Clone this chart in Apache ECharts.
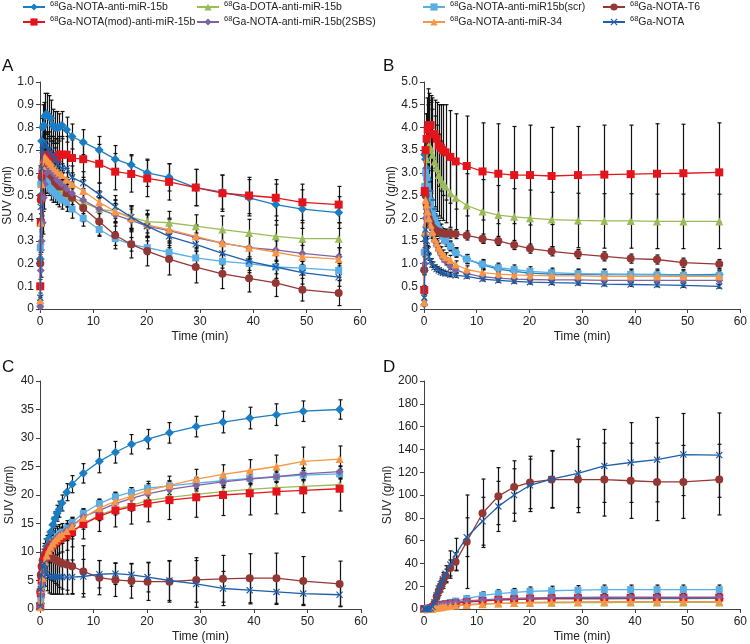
<!DOCTYPE html>
<html><head><meta charset="utf-8">
<script src="https://cdn.jsdelivr.net/npm/echarts@6/dist/echarts.min.js"></script>
<style>html,body{margin:0;padding:0;background:#fff}#c{width:750px;height:644px}</style>
</head><body><div id="c"></div>
<script>
// ---- data ----
const times = [0.05,0.15,0.3,0.5,0.7,0.9,1.25,1.6,2.0,2.4,2.8,3.2,3.6,4.1,5.0,6.0,8.1,11.1,14.1,17.1,20.1,24.2,29.2,34.2,39.2,44.2,49.2,56];
const seriesNames = ['68Ga-NOTA-anti-miR-15b','68Ga-DOTA-anti-miR-15b','68Ga-NOTA-anti-miR15b(scr)','68Ga-NOTA-T6','68Ga-NOTA(mod)-anti-miR-15b','68Ga-NOTA-anti-miR-15b(2SBS)','68Ga-NOTA-anti-miR-34','68Ga-NOTA'];
const panelLabels = ['A','B','C','D'];
const xTicks = [0,10,20,30,40,50,60];
const yMaxA = 1.0, yStepA = 0.1, yMaxB = 5.0, yStepB = 0.5, yMaxC = 40, yStepC = 5, yMaxD = 200, yStepD = 20;

// Panel A
const A_nota15b = [0.22,0.50,0.74,0.80,0.81,0.85,0.86,0.85,0.84,0.81,0.80,0.80,0.80,0.81,0.79,0.76,0.735,0.70,0.66,0.635,0.60,0.58,0.535,0.515,0.49,0.46,0.44,0.425];
const A_nota15b_err = [0.03,0.08,0.1,0.1,0.1,0.1,0.09,0.09,0.08,0.07,0.07,0.07,0.06,0.06,0.055,0.055,0.055,0.06,0.06,0.045,0.06,0.06,0.08,0.075,0.08,0.09,0.085,0.07];
const A_dota = [0.03,0.30,0.50,0.58,0.62,0.63,0.62,0.60,0.58,0.56,0.55,0.54,0.53,0.52,0.50,0.49,0.47,0.44,0.43,0.405,0.385,0.38,0.365,0.35,0.335,0.32,0.31,0.31];
const A_dota_err = [0.01,0.05,0.07,0.08,0.08,0.08,0.07,0.07,0.06,0.06,0.06,0.06,0.05,0.05,0.05,0.05,0.05,0.05,0.05,0.05,0.05,0.05,0.05,0.06,0.06,0.07,0.07,0.07];
const A_scr = [0.27,0.55,0.58,0.59,0.58,0.57,0.56,0.55,0.53,0.52,0.51,0.50,0.49,0.48,0.47,0.44,0.40,0.35,0.31,0.285,0.27,0.25,0.225,0.21,0.20,0.185,0.18,0.17];
const A_scr_err = [0.03,0.05,0.06,0.06,0.06,0.06,0.05,0.05,0.05,0.05,0.04,0.04,0.04,0.04,0.04,0.04,0.035,0.03,0.03,0.03,0.03,0.03,0.03,0.03,0.03,0.03,0.03,0.03];
const A_t6 = [0.20,0.48,0.58,0.62,0.63,0.64,0.63,0.61,0.59,0.58,0.56,0.55,0.54,0.54,0.51,0.49,0.445,0.385,0.325,0.285,0.255,0.22,0.185,0.155,0.135,0.115,0.085,0.07];
const A_t6_err = [0.03,0.06,0.08,0.08,0.08,0.08,0.07,0.07,0.06,0.06,0.06,0.06,0.06,0.06,0.06,0.06,0.06,0.06,0.06,0.06,0.065,0.07,0.07,0.065,0.06,0.06,0.05,0.055];
const A_mod = [0.10,0.38,0.49,0.60,0.64,0.67,0.68,0.68,0.67,0.67,0.66,0.66,0.68,0.68,0.68,0.665,0.66,0.64,0.605,0.595,0.575,0.56,0.535,0.51,0.50,0.49,0.47,0.46];
const A_mod_err = [0.03,0.06,0.08,0.09,0.1,0.1,0.1,0.1,0.09,0.09,0.09,0.09,0.08,0.08,0.08,0.08,0.08,0.085,0.08,0.08,0.08,0.08,0.08,0.08,0.08,0.08,0.08,0.08];
const A_2sbs = [0.01,0.17,0.30,0.38,0.49,0.55,0.60,0.62,0.61,0.60,0.59,0.57,0.56,0.55,0.53,0.51,0.48,0.44,0.415,0.39,0.365,0.345,0.315,0.29,0.27,0.26,0.245,0.23];
const A_2sbs_err = [0.01,0.03,0.04,0.05,0.05,0.05,0.05,0.05,0.05,0.05,0.05,0.05,0.05,0.05,0.05,0.05,0.05,0.05,0.05,0.05,0.05,0.05,0.05,0.05,0.05,0.05,0.05,0.04];
const A_mir34 = [0.04,0.38,0.55,0.63,0.66,0.67,0.66,0.65,0.64,0.63,0.62,0.61,0.60,0.59,0.57,0.55,0.52,0.47,0.43,0.40,0.37,0.35,0.32,0.29,0.27,0.25,0.23,0.22];
const A_mir34_err = [0.01,0.04,0.05,0.05,0.05,0.05,0.05,0.05,0.05,0.05,0.05,0.05,0.05,0.05,0.05,0.05,0.05,0.05,0.05,0.05,0.05,0.05,0.05,0.05,0.05,0.05,0.05,0.05];
const A_nota = [0.05,0.45,0.62,0.70,0.72,0.73,0.72,0.70,0.69,0.68,0.66,0.64,0.63,0.62,0.62,0.58,0.555,0.505,0.45,0.405,0.365,0.32,0.285,0.245,0.21,0.185,0.16,0.14];
const A_nota_err = [0.01,0.05,0.05,0.05,0.05,0.05,0.05,0.05,0.05,0.05,0.05,0.05,0.05,0.05,0.05,0.05,0.05,0.05,0.05,0.05,0.05,0.05,0.05,0.05,0.05,0.05,0.05,0.04];

// Panel B
const B_nota15b = [0.85,3.4,3.3,3.1,2.85,2.6,2.4,2.2,2.05,1.9,1.8,1.72,1.62,1.55,1.4,1.25,1.1,0.97,0.88,0.83,0.79,0.77,0.76,0.76,0.76,0.76,0.75,0.76];
const B_nota15b_err = [0.1,0.3,0.3,0.3,0.25,0.2,0.2,0.2,0.15,0.15,0.15,0.15,0.12,0.12,0.1,0.1,0.1,0.1,0.1,0.1,0.1,0.1,0.1,0.12,0.12,0.12,0.12,0.1];
const B_dota = [0.15,1.7,2.8,3.3,3.5,3.6,3.55,3.4,3.25,3.1,2.95,2.85,2.75,2.7,2.55,2.45,2.28,2.15,2.07,2.03,2.0,1.97,1.95,1.94,1.94,1.93,1.93,1.93];
const B_dota_err = [0.05,0.5,0.8,1.0,1.0,1.0,1.0,1.0,1.0,0.95,0.9,0.85,0.8,0.8,0.75,0.75,0.7,0.7,0.65,0.62,0.62,0.6,0.6,0.6,0.6,0.6,0.6,0.6];
const B_scr = [1.25,2.7,3.0,2.9,2.7,2.5,2.3,2.1,1.95,1.85,1.75,1.68,1.6,1.5,1.38,1.24,1.1,0.99,0.91,0.87,0.83,0.8,0.78,0.77,0.76,0.75,0.74,0.74];
const B_scr_err = [0.1,0.2,0.2,0.2,0.2,0.2,0.15,0.15,0.15,0.15,0.12,0.12,0.12,0.12,0.1,0.1,0.1,0.1,0.1,0.1,0.1,0.1,0.1,0.1,0.1,0.1,0.1,0.1];
const B_t6 = [0.86,2.55,2.5,2.3,2.1,2.0,1.9,1.8,1.75,1.72,1.7,1.68,1.67,1.66,1.66,1.65,1.62,1.55,1.5,1.41,1.33,1.27,1.21,1.16,1.11,1.09,1.02,0.99];
const B_t6_err = [0.1,0.3,0.3,0.25,0.2,0.15,0.15,0.12,0.12,0.12,0.1,0.1,0.1,0.1,0.1,0.1,0.1,0.1,0.1,0.1,0.1,0.1,0.1,0.1,0.1,0.1,0.1,0.1];
const B_mod = [0.42,2.6,3.5,3.75,3.95,4.05,4.05,3.85,3.85,3.75,3.6,3.55,3.5,3.45,3.35,3.25,3.15,3.03,2.98,2.95,2.95,2.93,2.95,2.96,2.97,2.98,2.99,3.01];
const B_mod_err = [0.1,0.5,0.8,0.9,0.9,0.7,0.65,0.8,0.75,0.8,0.9,0.95,1.0,1.05,1.02,1.05,1.1,1.07,1.1,1.07,1.1,1.07,1.07,1.09,1.08,1.1,1.08,1.09];
const B_2sbs = [0.1,1.0,2.0,2.2,2.1,1.95,1.8,1.65,1.5,1.4,1.3,1.2,1.12,1.05,0.93,0.86,0.78,0.71,0.68,0.66,0.65,0.64,0.64,0.63,0.63,0.63,0.63,0.63];
const B_2sbs_err = [0.02,0.1,0.15,0.15,0.15,0.12,0.12,0.1,0.1,0.1,0.08,0.08,0.08,0.08,0.06,0.06,0.06,0.05,0.05,0.05,0.05,0.05,0.05,0.05,0.05,0.05,0.05,0.05];
const B_mir34 = [0.15,1.7,2.4,2.3,2.15,2.0,1.85,1.7,1.55,1.45,1.35,1.27,1.2,1.14,1.08,0.98,0.87,0.80,0.77,0.75,0.74,0.73,0.73,0.72,0.72,0.72,0.72,0.72];
const B_mir34_err = [0.02,0.15,0.2,0.2,0.15,0.15,0.12,0.12,0.1,0.1,0.1,0.1,0.1,0.1,0.1,0.08,0.08,0.06,0.06,0.06,0.06,0.06,0.06,0.06,0.06,0.06,0.06,0.06];
const B_nota = [0.25,1.55,1.75,1.5,1.3,1.15,1.05,0.98,0.92,0.88,0.85,0.82,0.8,0.78,0.76,0.74,0.72,0.66,0.63,0.61,0.59,0.58,0.57,0.55,0.54,0.53,0.52,0.50];
const B_nota_err = [0.03,0.1,0.12,0.1,0.08,0.08,0.06,0.06,0.05,0.05,0.05,0.05,0.05,0.05,0.05,0.04,0.04,0.04,0.04,0.04,0.04,0.04,0.04,0.04,0.04,0.04,0.04,0.04];

// Panel C
const C_nota15b = [1.0,3.5,5.5,7.0,8.5,9.8,11.0,12.3,13.5,14.8,15.8,16.8,17.5,18.6,20.5,21.9,23.8,25.9,27.5,28.9,29.8,30.9,32.0,32.8,33.5,34.1,34.7,35.0];
const C_nota15b_err = [0.2,0.5,0.8,1,1,1.1,1.1,1.2,1.2,1.3,1.3,1.4,1.4,1.4,1.5,1.5,1.7,2.0,1.9,1.7,1.7,1.8,1.8,1.9,1.9,1.9,1.8,1.7];
const C_dota = [0.5,2.5,4.5,6.2,7.5,8.5,9.4,10.1,10.7,11.2,11.7,12.0,12.3,12.5,13.0,13.7,15.0,16.5,17.5,18.2,19.0,19.6,20.1,20.6,21.0,21.3,21.5,21.8];
const C_dota_err = [0.1,0.4,0.6,0.8,0.9,1,1,1,1,1,1,1,1,1,1,1,1,1,1,1,1,1,1,1,1,1,1,1];
const C_scr = [0.3,2.0,4.0,5.8,7.2,8.4,9.5,10.3,11.0,11.7,12.2,12.7,13.2,13.5,14.2,15.2,16.8,18.5,19.7,20.5,21.2,21.6,22.1,22.5,22.9,23.2,23.5,23.7];
const C_scr_err = [0.1,0.3,0.5,0.6,0.7,0.8,0.8,0.8,0.8,0.8,0.8,0.8,0.8,0.8,0.8,0.8,0.8,0.8,0.8,0.8,0.8,0.8,0.8,0.8,0.8,0.8,0.8,0.8];
const C_t6 = [3.0,6.0,7.5,8.5,9.0,9.3,9.4,9.3,9.1,8.9,8.7,8.5,8.3,8.0,7.8,7.5,6.6,5.5,5.1,4.9,4.8,4.8,5.1,5.3,5.4,5.4,4.9,4.4];
const C_t6_err = [0.5,1,1.5,2,2.5,3,3.5,3.8,4,4,4.2,4.3,4.5,4.5,4.5,4.8,4.5,3,2.9,3.0,3.3,3.6,3.9,4.1,4.3,4.4,4.3,4.0];
const C_mod = [0.5,2.8,5.0,6.8,8.0,9.0,9.8,10.4,10.9,11.3,11.7,12.0,12.3,12.5,12.9,13.5,14.9,16.3,17.3,17.9,18.5,19.1,19.6,20.0,20.3,20.6,20.8,21.1];
const C_mod_err = [0.2,0.8,1.2,1.5,1.8,2,2.2,2.3,2.4,2.4,2.5,2.5,2.5,2.5,2.6,2.6,2.6,2.7,2.9,3.0,3.2,3.4,3.5,3.6,3.8,3.9,3.9,3.9];
const C_2sbs = [0.2,1.0,2.5,4.5,6.3,7.7,9.0,10.0,10.8,11.5,12.0,12.5,12.9,13.2,13.8,14.6,16.2,17.3,18.5,19.4,20.2,21.0,21.7,22.3,22.8,23.2,23.7,24.1];
const C_2sbs_err = [0.1,0.3,0.5,0.7,0.8,0.9,1,1,1,1,1,1,1,1,1,1,1,1,1,1,1,1,1,1,1,1,1,1];
const C_mir34 = [0.3,1.5,3.5,5.5,7.0,8.3,9.4,10.2,10.9,11.5,12.0,12.4,12.8,13.1,13.7,14.5,16.0,17.7,18.9,19.8,20.8,21.7,22.8,23.6,24.3,25.0,25.9,26.3];
const C_mir34_err = [0.1,0.4,0.6,0.8,0.9,1,1,1.1,1.1,1.2,1.2,1.2,1.3,1.3,1.3,1.4,1.4,1.5,1.5,1.5,1.6,1.6,1.7,1.7,1.9,2.0,2.5,2.3];
const C_nota = [0.5,3.5,6.0,7.5,8.0,7.0,6.2,5.8,5.6,5.6,5.6,5.6,5.6,5.6,5.6,5.6,5.7,6.1,6.2,6.0,5.6,5.0,4.4,3.6,3.3,3.0,2.7,2.5];
const C_nota_err = [0.2,1,2,2.5,3,3,3,3,3,3,3,3,3,3,3,3,3,2.4,1.9,2.0,2.6,3.5,4.1,3.0,2.4,2.2,1.9,2.0];

// Panel D
const D_nota15b = [0,0,0,0,0,0.2,0.5,1,1.5,2,2.5,3,3.5,4,4.8,5.5,6.5,7.5,8,8.3,8.6,8.8,9,9,9.1,9.2,9.2,9.3];
const D_nota15b_err = [0,0,0,0,0,0.1,0.2,0.4,0.6,0.8,1,1.2,1.4,1.5,1.8,2,2.3,2.6,2.8,2.9,3,3,3,3,3,3,3,3];
const D_dota = [0,0,0,0,0,0.1,0.3,0.6,1,1.5,2,2.3,2.6,3,3.3,3.6,4,4.5,5,5.2,5.4,5.5,5.6,5.7,5.8,5.8,5.8,5.8];
const D_dota_err = [0,0,0,0,0,0.1,0.1,0.2,0.4,0.5,0.7,0.8,0.9,1,1.1,1.2,1.4,1.6,1.8,1.9,2,2,2,2,2,2,2,2];
const D_scr = [0,0,0,0,0.2,0.5,1,1.5,2,2.6,3.2,3.8,4.3,4.8,5.8,7,9,12,13.5,14.5,15.5,16,16.5,17,17,17,17,17];
const D_scr_err = [0,0,0,0,0.1,0.2,0.3,0.5,0.7,0.9,1,1.2,1.3,1.5,1.8,2,2.5,3,3.3,3.5,3.8,4,4,4,4,4,4,4];
const D_t6 = [0,0,0,0,0,0.2,0.5,2,5,11,16,20,24,29,36,41.5,59,84,99,107,111,113.5,113.5,113.5,112.5,111.5,111.5,113.5];
const D_t6_err = [0,0,0,0,0,0.1,0.3,1,2,3,4,5,6,6,7,8,41,30,25,23,23,25,29,32,33,34,32,31];
const D_mod = [0,0,0,0,0,0.2,0.5,1,1.5,2,2.5,3,3.5,4,4.5,5,6,7,8,8.5,9,9.3,9.5,9.7,9.8,9.9,10,10];
const D_mod_err = [0,0,0,0,0,0.1,0.2,0.4,0.6,0.8,1,1.2,1.4,1.5,1.8,2,2.3,2.6,2.8,2.9,3,3,3,3,3,3,3,3];
const D_2sbs = [0,0,0,0,0,0.2,0.5,1,1.8,2.5,3,3.5,4,4.5,5.5,6.2,7,8,8.8,9.3,9.7,10,10.2,10.3,10.4,10.5,10.5,10.5];
const D_2sbs_err = [0,0,0,0,0,0.1,0.2,0.4,0.6,0.8,1,1.2,1.4,1.5,1.8,2,2.3,2.6,2.8,2.9,3,3,3,3,3,3,3,3];
const D_mir34 = [0,0,0,0,0,0.1,0.3,0.5,0.8,1,1.3,1.6,2,2.3,2.7,3,3.5,4.2,4.8,5.3,5.7,6,6.2,6.4,6.5,6.5,6.5,6.5];
const D_mir34_err = [0,0,0,0,0,0.1,0.1,0.2,0.3,0.4,0.5,0.6,0.8,0.9,1,1.2,1.5,1.8,2.2,2.5,2.8,3,3,3,3,3,3,3];
const D_nota = [0,0,0,0,0,0.2,0.5,2,6,12,18,22,26,31,39,48,63,77,90,100,108.5,114,119,125.5,128.5,131,135.5,135];
const D_nota_err = [0,0,0,0,0,0.1,0.3,1,2,3,4,5,6,7,12,14,17,21,22,23,23,25,30,32,35,37,36,37];

const panelValues = [
  [A_nota15b,A_dota,A_scr,A_t6,A_mod,A_2sbs,A_mir34,A_nota],
  [B_nota15b,B_dota,B_scr,B_t6,B_mod,B_2sbs,B_mir34,B_nota],
  [C_nota15b,C_dota,C_scr,C_t6,C_mod,C_2sbs,C_mir34,C_nota],
  [D_nota15b,D_dota,D_scr,D_t6,D_mod,D_2sbs,D_mir34,D_nota]
];
const panelErrors = [
  [A_nota15b_err,A_dota_err,A_scr_err,A_t6_err,A_mod_err,A_2sbs_err,A_mir34_err,A_nota_err],
  [B_nota15b_err,B_dota_err,B_scr_err,B_t6_err,B_mod_err,B_2sbs_err,B_mir34_err,B_nota_err],
  [C_nota15b_err,C_dota_err,C_scr_err,C_t6_err,C_mod_err,C_2sbs_err,C_mir34_err,C_nota_err],
  [D_nota15b_err,D_dota_err,D_scr_err,D_t6_err,D_mod_err,D_2sbs_err,D_mir34_err,D_nota_err]
];

// ---- styles ----
const FONT = 'Liberation Sans, Arial, sans-serif';
const colors = ['#1b7dc2','#9bbb59','#5aaee6','#953735','#e4141c','#8064a2','#f79646','#1f5ea8'];
const XPATH = 'path://M0,1.2L1.2,0L5,3.8L8.8,0L10,1.2L6.2,5L10,8.8L8.8,10L5,6.2L1.2,10L0,8.8L3.8,5Z';
const symbols = ['diamond','triangle','rect','circle','rect','diamond','triangle',XPATH];
const symSizes = [9,8,7,8,8,8,8,7];
const grids = [
  {left:40, top:82, width:320, height:227},
  {left:424, top:82, width:318, height:227},
  {left:40, top:381, width:321, height:228},
  {left:424, top:381, width:317, height:228}
];
const yMax = [yMaxA,yMaxB,yMaxC,yMaxD];
const yStep = [yStepA,yStepB,yStepC,yStepD];
const labelPos = [[2,67],[383,67],[2,368],[383,368]];

const axisLineStyle = {color:'#404040', width:1};
const xAxes = grids.map((g,i)=>({
  gridIndex:i, type:'value', min:xTicks[0], max:xTicks[xTicks.length-1], interval:10,
  axisLine:{show:true, onZero:false, lineStyle:axisLineStyle},
  axisTick:{show:true, length:4, lineStyle:axisLineStyle},
  axisLabel:{color:'#222', fontSize:12, fontFamily:FONT, margin:7},
  splitLine:{show:false},
  name:'Time (min)', nameLocation:'middle', nameGap:22,
  nameTextStyle:{color:'#222', fontSize:12, fontFamily:FONT}
}));
const yAxes = grids.map((g,i)=>({
  gridIndex:i, type:'value', min:0, max:yMax[i], interval:yStep[i],
  axisLine:{show:true, lineStyle:axisLineStyle},
  axisTick:{show:true, length:4, lineStyle:axisLineStyle},
  axisLabel:{color:'#222', fontSize:12, fontFamily:FONT, margin:6,
    formatter: v => (i<2 ? (v===0 ? '0' : v.toFixed(1)) : String(v))},
  splitLine:{show:false},
  name:'SUV (g/ml)', nameLocation:'middle', nameGap:i<2?26:24,
  nameTextStyle:{color:'#222', fontSize:12, fontFamily:FONT}
}));

function renderErr(params, api){
  const x = api.value(0), lo = api.value(1), hi = api.value(2);
  const t = api.coord([x, hi]), b = api.coord([x, lo]);
  const xx = Math.round(t[0]) + 0.5;
  const w = 2;
  const st = {stroke:'#111', lineWidth:1.2};
  return {type:'group', children:[
    {type:'line', shape:{x1:xx, y1:t[1], x2:xx, y2:b[1]}, style:st},
    {type:'line', shape:{x1:xx-w, y1:t[1], x2:xx+w, y2:t[1]}, style:st},
    {type:'line', shape:{x1:xx-w, y1:b[1], x2:xx+w, y2:b[1]}, style:st}
  ]};
}

const series = [];
for (let p=0; p<4; p++){
  const errData = [];
  for (let s=0; s<8; s++){
    const v = panelValues[p][s], e = panelErrors[p][s];
    for (let k=0; k<times.length; k++){
      if (e[k] > 0) errData.push([times[k], Math.max(0, v[k]-e[k]), v[k]+e[k]]);
    }
  }
  series.push({type:'custom', name:'err'+p, xAxisIndex:p, yAxisIndex:p, renderItem:renderErr,
    data:errData, encode:{x:0, y:[1,2]}, z:1, silent:true, clip:false});
  for (let s=0; s<8; s++){
    series.push({
      type:'line', name:seriesNames[s], xAxisIndex:p, yAxisIndex:p,
      data: times.map((t,k)=>[t, panelValues[p][s][k]]),
      symbol:symbols[s], symbolSize:symSizes[s], showAllSymbol:true,
      lineStyle:{color:colors[s], width:1.3},
      itemStyle:{color:colors[s]},
      z:2+s, animation:false
    });
  }
}

const legendPos = [[22,0],[196,0],[422,0],[602,0],[22,15],[196,15],[422,15],[602,15]];
const legends = seriesNames.map((nm,i)=>({
  data:[nm], left:legendPos[i][0], top:legendPos[i][1], padding:0,
  itemWidth:22, itemHeight:9, itemGap:0, selectedMode:false,
  formatter: n => '{s|68}{t|' + n.replace(/^68/,'') + '}',
  textStyle:{color:'#222', fontFamily:FONT, fontSize:10.5,
    rich:{s:{fontSize:7.5, fontFamily:FONT, color:'#222', verticalAlign:'top', lineHeight:8},
          t:{fontSize:10.5, fontFamily:FONT, color:'#222', lineHeight:14}}}
}));

const graphics = panelLabels.map((L,i)=>({
  type:'text', left:labelPos[i][0], top:labelPos[i][1]-9,
  style:{text:L, font:'17px '+FONT, fill:'#111'}
}));

const chart = echarts.init(document.getElementById('c'), null, {renderer:'canvas'});
chart.setOption({
  animation:false, backgroundColor:'#fff',
  grid:grids, xAxis:xAxes, yAxis:yAxes, series:series, legend:legends, graphic:graphics
});
</script></body></html>
